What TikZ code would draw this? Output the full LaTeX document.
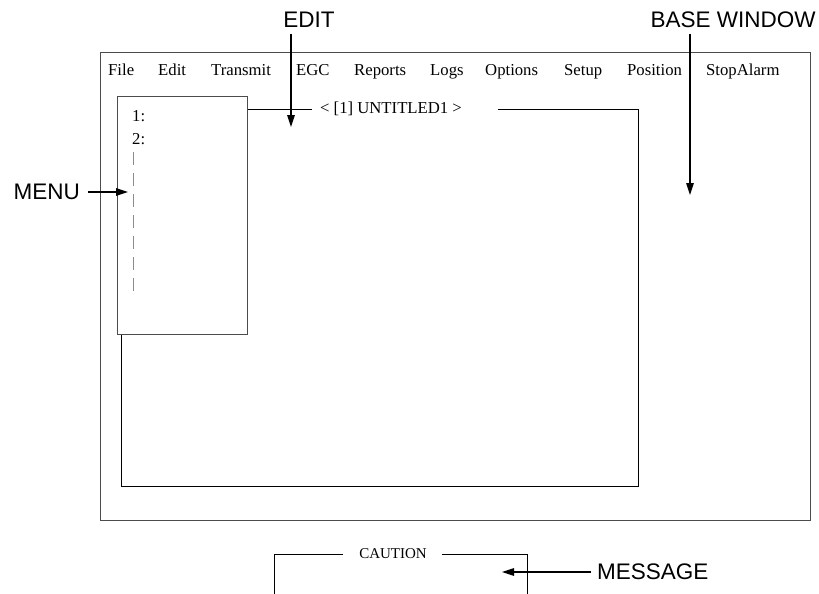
\documentclass[tikz,border=0pt]{standalone}
\usepackage{fontspec}
\setmainfont{Liberation Serif}
\newfontfamily\labfont{Liberation Sans}
\usetikzlibrary{arrows.meta}
\begin{document}
\begin{tikzpicture}[x=1pt,y=-1pt,
  frame/.style={draw=black!70, line width=1pt},
  wline/.style={draw=black, line width=0.8pt},
  callout/.style={draw=black, line width=1.2pt, -{Triangle[length=12pt,width=7.5pt]}},
  lbl/.style={font=\labfont\fontsize{22.5}{27}\selectfont, inner sep=0pt},
  mtxt/.style={font=\fontsize{16.7}{20}\selectfont, inner sep=0pt, anchor=base west},
  ctxt/.style={font=\fontsize{15}{18}\selectfont, inner sep=0pt},
]
\useasboundingbox (0,0) rectangle (819,594);
% base window
\node[frame, anchor=north west, minimum width=710pt, minimum height=468pt, inner sep=0pt] (base) at (100,52) {};
% menu bar
\node[mtxt] (mfile) at (108,76) {File};
\node[mtxt] (medit) at (158,76) {Edit};
\node[mtxt] (mtrans) at (211,76) {Transmit};
\node[mtxt] (megc) at (296,76) {EGC};
\node[mtxt] (mrep) at (354,76) {Reports};
\node[mtxt] (mlogs) at (430,76) {Logs};
\node[mtxt] (mopt) at (485,76) {Options};
\node[mtxt] (msetup) at (564,76) {Setup};
\node[mtxt] (mpos) at (627,76) {Position};
\node[mtxt] (mstop) at (706,76) {StopAlarm};
% menu box
\node[frame, anchor=north west, minimum width=130pt, minimum height=238pt, inner sep=0pt] (menubox) at (117,96) {};
\node[mtxt] (item1) at (132,121.5) {1:};
\node[mtxt] (item2) at (132,144) {2:};
\coordinate (dtop) at (133,152);
\coordinate (dbot) at (133,297);
\draw[black!45, line width=1pt, dash pattern=on 13pt off 8pt] (dtop) -- (dbot);
% edit window
\node[mtxt, anchor=center] (title) at (391,109) {< [1] UNTITLED1 >};
\coordinate (tl1) at (312,109);
\coordinate (tr1) at (498,109);
\coordinate (ewne) at (638,109);
\coordinate (ewse) at (638,486);
\coordinate (ewsw) at (121,486);
\draw[wline] (menubox.east |- tl1) -- (tl1);
\draw[wline] (tr1) -- (ewne) -- (ewse) -- (ewsw) -- (ewsw |- menubox.south);
% caution window
\node[ctxt] (caution) at (393,554) {CAUTION};
\coordinate (cl) at (343,554);
\coordinate (cr) at (442,554);
\coordinate (cnw) at (274,554);
\coordinate (cne) at (527,554);
\draw[wline] (cl) -- (cnw) -- (cnw |- 0,594);
\draw[wline] (cr) -- (cne) -- (cne |- 0,594);
% labels and callouts
\node[lbl] (editl) at (309,20) {EDIT};
\coordinate (edittip) at (291,127);
\draw[callout, shorten <=6pt] (edittip |- editl.south) -- (edittip);
\node[lbl] (basel) at (733,20) {BASE WINDOW};
\coordinate (basetip) at (690,195);
\draw[callout, shorten <=6pt] (basetip |- basel.south) -- (basetip);
\node[lbl, anchor=east] (menul) at (80,192) {MENU};
\coordinate (menutip) at (128,192);
\draw[callout, shorten <=8pt] (menul.east) -- (menutip);
\node[lbl, anchor=west] (msgl) at (597,572) {MESSAGE};
\coordinate (msgtip) at (502,572);
\draw[callout, shorten <=6pt] (msgl.west) -- (msgtip);
\end{tikzpicture}
\end{document}
